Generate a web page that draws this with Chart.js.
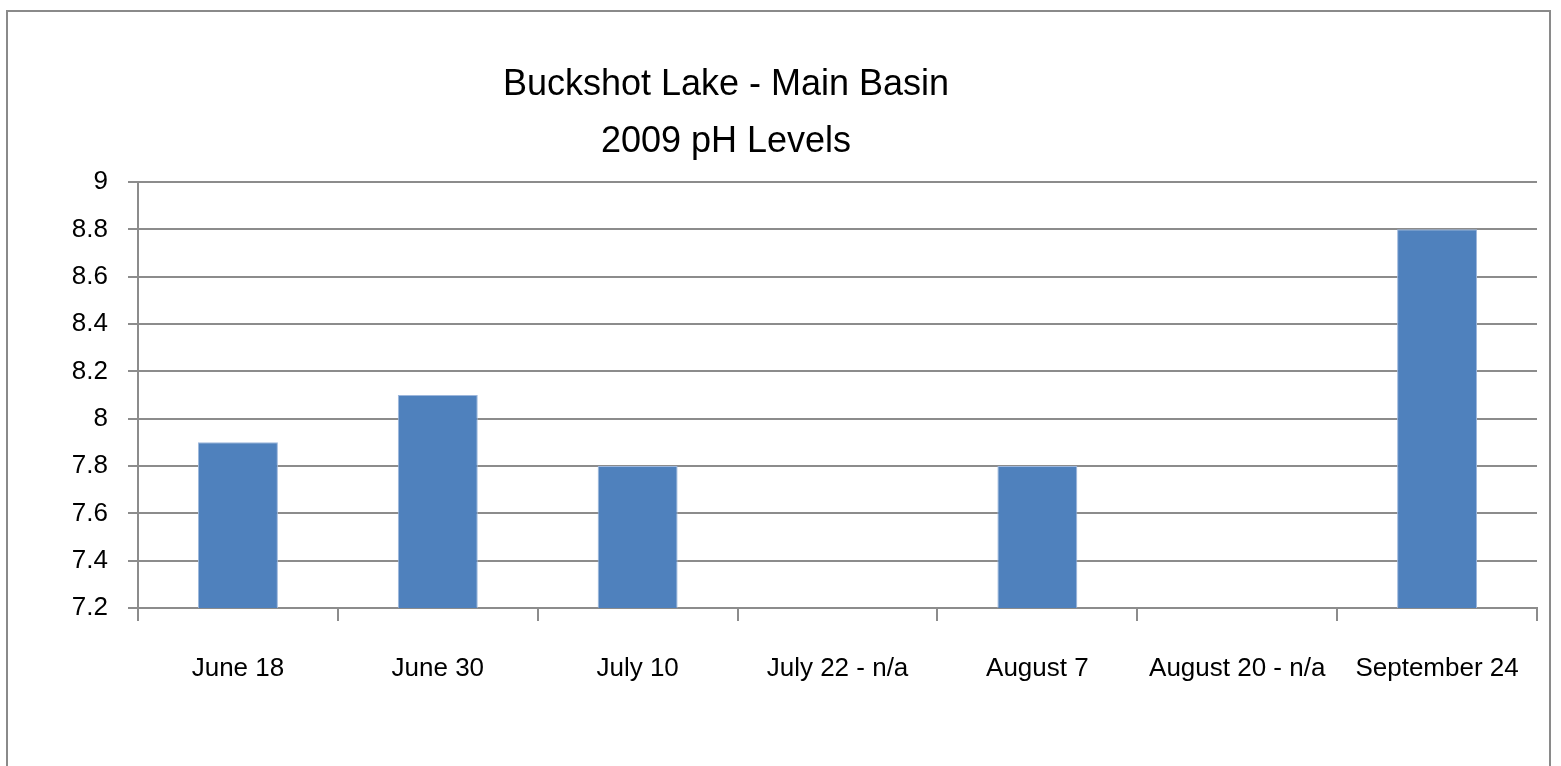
<!DOCTYPE html>
<html>
<head>
<meta charset="utf-8">
<title>Buckshot Lake - Main Basin 2009 pH Levels</title>
<script src="https://cdn.jsdelivr.net/npm/chart.js@4.4.1/dist/chart.umd.min.js"></script>
<style>
  html, body { margin: 0; padding: 0; background: #fff; overflow: hidden; }
  #wrap { position: relative; width: 1561px; height: 766px; }
  #frame {
    position: absolute; left: 6px; top: 10px; width: 1545px; height: 800px;
    border: 2px solid #8a8a8a; box-sizing: border-box;
  }
  canvas { position: absolute; left: 0; top: 0; }
</style>
</head>
<body>
<div id="wrap">
  <div id="frame"></div>
  <canvas id="chart" width="1561" height="766"></canvas>
</div>
<script>
// chart data
const categories = ['June 18', 'June 30', 'July 10', 'July 22 - n/a', 'August 7', 'August 20 - n/a', 'September 24'];
const phValues = [7.9, 8.1, 7.8, null, 7.8, null, 8.8];
const yTicks = [7.2, 7.4, 7.6, 7.8, 8, 8.2, 8.4, 8.6, 8.8, 9];
const titleLines = ['Buckshot Lake - Main Basin', '2009 pH Levels'];

const FONT = '"Liberation Sans", Arial, sans-serif';
const GRID = '#8c8c8c';

// Excel puts the title a little left of the plot centre, so draw it ourselves
const titlePlugin = {
  id: 'excelTitle',
  afterDraw(chart) {
    const ctx = chart.ctx;
    ctx.save();
    ctx.fillStyle = '#000';
    ctx.font = '36px ' + FONT;
    ctx.textAlign = 'center';
    ctx.textBaseline = 'alphabetic';
    ctx.fillText(titleLines[0], 726, 95);
    ctx.fillText(titleLines[1], 726, 152);
    ctx.restore();
  }
};

new Chart(document.getElementById('chart'), {
  type: 'bar',
  data: {
    labels: categories,
    datasets: [{
      data: phValues,
      backgroundColor: '#4f81bd',
      borderColor: '#9db7dc',
      borderWidth: { right: 1, left: 1, top: 1, bottom: 0 },
      categoryPercentage: 1,
      barPercentage: 0.4
    }]
  },
  options: {
    responsive: false,
    animation: false,
    devicePixelRatio: 1,
    layout: { padding: { left: 0, right: 24, top: 182, bottom: 0 } },
    plugins: {
      legend: { display: false },
      title: { display: false },
      tooltip: { enabled: false }
    },
    scales: {
      x: {
        offset: true,
        grid: {
          offset: true,
          drawOnChartArea: false,
          drawTicks: true,
          tickLength: 13,
          color: GRID,
          lineWidth: 2
        },
        border: { display: true, color: GRID, width: 2 },
        ticks: {
          color: '#000',
          font: { family: FONT, size: 26 },
          padding: 32,
          maxRotation: 0,
          autoSkip: false
        },
        afterFit(scale) { scale.height = 158; }
      },
      y: {
        min: 7.2,
        max: 9,
        afterBuildTicks(scale) {
          scale.ticks = yTicks.map(v => ({ value: v }));
        },
        grid: {
          color: GRID,
          lineWidth: 2,
          drawTicks: true,
          tickLength: 10
        },
        border: { display: true, color: GRID, width: 2 },
        ticks: {
          color: '#000',
          font: { family: FONT, size: 26 },
          padding: 20,
          callback: v => String(Number(v.toFixed(1)))
        },
        afterFit(scale) { scale.width = 138; }
      }
    }
  },
  plugins: [titlePlugin]
});
</script>
</body>
</html>
